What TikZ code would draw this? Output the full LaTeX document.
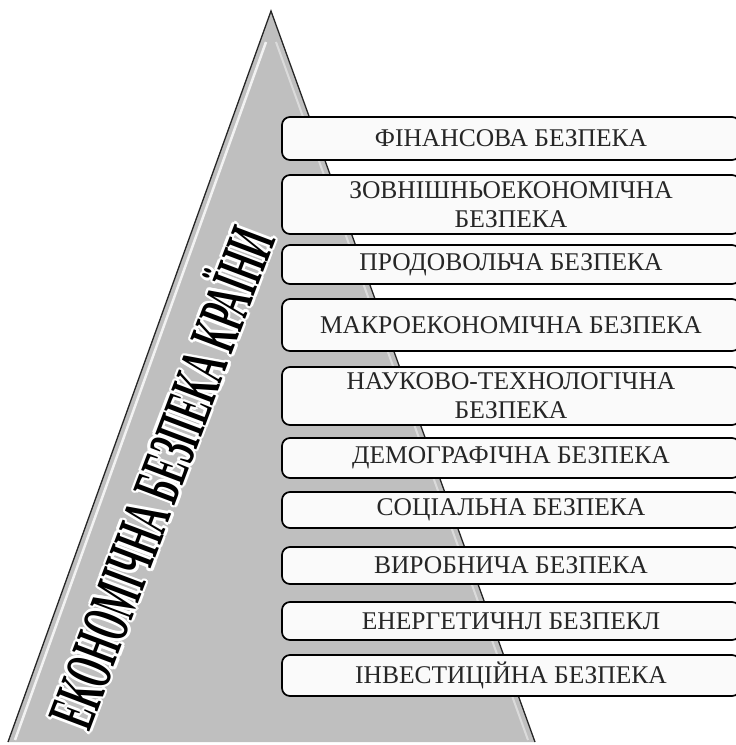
\documentclass[tikz,border=0pt]{standalone}
\usepackage{fontspec}
\setmainfont{Liberation Serif}
\newfontfamily\boxfont{Liberation Serif}
\newfontfamily\spinefont[FakeStretch=0.48]{Liberation Serif Bold}
\usetikzlibrary{positioning}

\begin{document}
\begin{tikzpicture}[x=1pt,y=-1pt,
    level box/.style={draw=black,line width=1.7pt,rounded corners=8pt,fill=white!98!black,
      minimum width=458pt,inner sep=0pt,align=center,text=black!85,
      font=\boxfont\fontsize{25.5}{29}\selectfont},
    spine text/.style={rotate=69.3,inner sep=0pt,font=\spinefont\fontsize{67}{67}\selectfont}]
\useasboundingbox (0,0) rectangle (736,745);

% pyramid
\coordinate (apex) at (271,11);
\coordinate (bl)   at (8,742);
\coordinate (br)   at (535,742);
\fill[black!25] (apex) -- (bl) -- (br) -- cycle;
\draw[white,line width=2.5pt,opacity=0.8] (266,42) -- (15,740);
\draw[white,line width=2pt,opacity=0.45] (276,42) -- (528,740);
\draw[black!85,line width=1.3pt] (bl) -- (apex) -- (br);

% levels
\node[level box,minimum height=43pt] (fin)   at (511,138.5) {ФІНАНСОВА БЕЗПЕКА};
\node[level box,minimum height=59pt] (zovn)  at (511,204.5) {ЗОВНІШНЬОЕКОНОМІЧНА\\БЕЗПЕКА};
\node[level box,minimum height=39pt] (prod)  at (511,264.5) {ПРОДОВОЛЬЧА БЕЗПЕКА};
\node[level box,minimum height=52pt] (makro) at (511,325)   {МАКРОЕКОНОМІЧНА БЕЗПЕКА};
\node[level box,minimum height=58pt] (nauk)  at (511,396)   {НАУКОВО-ТЕХНОЛОГІЧНА\\БЕЗПЕКА};
\node[level box,minimum height=40pt] (demo)  at (511,458)   {ДЕМОГРАФІЧНА БЕЗПЕКА};
\node[level box,minimum height=36pt] (soc)   at (511,510)   {СОЦІАЛЬНА БЕЗПЕКА};
\node[level box,minimum height=37pt] (vyr)   at (511,565.5) {ВИРОБНИЧА БЕЗПЕКА};
\node[level box,minimum height=38pt] (energ) at (511,621)   {ЕНЕРГЕТИЧНЛ БЕЗПЕКЛ};
\node[level box,minimum height=41pt] (inv)   at (511,675.5) {ІНВЕСТИЦІЙНА БЕЗПЕКА};

% title along the left side, white halo under black letters
\coordinate (spinec) at (157,476);
\foreach \ang in {0,30,...,330}
  \node[spine text,text=white] at ([shift={(\ang:2.6)}]spinec) {ЕКОНОМІЧНА БЕЗПЕКА КРАЇНИ};
\node[spine text] (spine) at (spinec) {ЕКОНОМІЧНА БЕЗПЕКА КРАЇНИ};
\end{tikzpicture}
\end{document}
